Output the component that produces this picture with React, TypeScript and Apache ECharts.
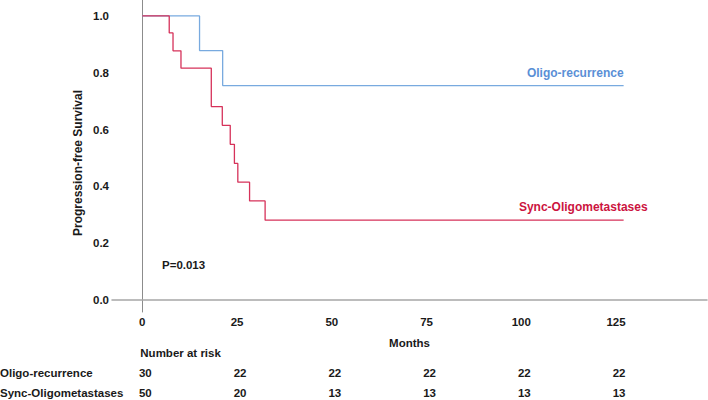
import React, { useEffect, useRef } from "react";
import * as echarts from "echarts";

const oligoTimes = [0, 15.1, 21.2, 127];
const oligoSurv = [1.0, 0.878, 0.755, 0.755];
const syncTimes = [0, 7.1, 8.1, 10.2, 18.2, 21.1, 23.2, 24.3, 25.2, 28.3, 32.4, 127];
const syncSurv = [1.0, 0.94, 0.877, 0.816, 0.681, 0.615, 0.548, 0.481, 0.415, 0.349, 0.281, 0.281];
const xTicks = [0, 25, 50, 75, 100, 125];
const yTicks = [0, 0.2, 0.4, 0.6, 0.8, 1.0];
const groups = ["Oligo-recurrence", "Sync-Oligometastases"];
const riskOligo = [30, 22, 22, 22, 22, 22];
const riskSync = [50, 20, 13, 13, 13, 13];
const pValue = "P=0.013";
const xMin = -8;
const xMax = 149;

const FONT = "'Liberation Sans', Arial, sans-serif";
const BLUE_LINE = "#78aadf";
const BLUE_TEXT = "#5a8fd6";
const RED_LINE = "#d6325a";
const RED_TEXT = "#cc1440";
const TXT = "#1a1a1a";

export default function App() {
  const ref = useRef<HTMLDivElement>(null);
  useEffect(() => {
    if (!ref.current) return;
    const chart = echarts.init(ref.current, undefined, { renderer: "svg" });
    const option: any = {
      animation: false,
      backgroundColor: "#ffffff",
      textStyle: { fontFamily: FONT },
      grid: { left: 112, right: 1, top: 0, bottom: 88, containLabel: false },
      xAxis: {
        type: "value",
        min: xMin,
        max: xMax,
        axisLine: { show: true, lineStyle: { color: "#a6a6a6", width: 1.5 } },
        axisTick: { show: false },
        splitLine: { show: false },
        axisLabel: {
          customValues: xTicks,
          margin: 4,
          fontFamily: FONT,
          fontSize: 11.5,
          fontWeight: "bold",
          color: TXT,
        },
      },
      yAxis: {
        type: "value",
        min: -0.042,
        max: 1.056,
        axisLine: { show: true, lineStyle: { color: "#8c8c8c", width: 1 } },
        axisTick: { show: false },
        splitLine: { show: false },
        axisLabel: {
          customValues: yTicks,
          formatter: (v: number) => v.toFixed(1),
          margin: 3,
          fontFamily: FONT,
          fontSize: 11.5,
          fontWeight: "bold",
          color: TXT,
        },
      },
      series: [
        {
          name: groups[0],
          type: "line",
          step: "end",
          showSymbol: false,
          symbol: "none",
          lineStyle: { color: BLUE_LINE, width: 1.3 },
          data: oligoTimes.map((t, i) => [t, oligoSurv[i]]),
        },
        {
          name: groups[1],
          type: "line",
          step: "end",
          showSymbol: false,
          symbol: "none",
          lineStyle: { color: RED_LINE, width: 1.3 },
          data: syncTimes.map((t, i) => [t, syncSurv[i]]),
        },
      ],
    };
    chart.setOption(option);

    const px = (t: number, v: number) => chart.convertToPixel({ gridIndex: 0 }, [t, v]) as number[];
    const bold = (text: string, x: number, y: number, align: string, color = TXT, size = 11.5) => ({
      type: "text",
      x,
      y,
      style: {
        text,
        fill: color,
        font: `bold ${size}px ${FONT}`,
        align,
        verticalAlign: "middle",
      },
    });
    const oEnd = px(oligoTimes[oligoTimes.length - 1], oligoSurv[oligoSurv.length - 1]);
    const sEnd = px(syncTimes[syncTimes.length - 1], syncSurv[syncSurv.length - 1]);
    const midX = (px(xMin, 0)[0] + px(xMax, 0)[0]) / 2;
    const yName: any = bold("Progression-free Survival", 78, 163, "center", TXT, 12);
    yName.rotation = Math.PI / 2;
    const graphics: any[] = [
      yName,
      bold(groups[0], oEnd[0], oEnd[1] - 13, "right", BLUE_TEXT, 12),
      bold(groups[1], sEnd[0] + 24, sEnd[1] - 13, "right", RED_TEXT, 12),
      bold(pValue, 162, 265, "left"),
      bold("Months", midX, 343, "center"),
      bold("Number at risk", px(0, 0)[0] - 2, 353, "left"),
      bold(groups[0], 0, 373, "left"),
      bold(groups[1], 0, 393, "left"),
    ];
    xTicks.forEach((t, i) => {
      const x = px(t, 0)[0] + 3;
      graphics.push(bold(String(riskOligo[i]), x, 373, "center"));
      graphics.push(bold(String(riskSync[i]), x, 393, "center"));
    });
    chart.setOption({ graphic: graphics });

    return () => chart.dispose();
  }, []);
  return (
    <div
      ref={ref}
      style={{ position: "fixed", left: 0, top: 0, width: 708, height: 400, background: "#fff" }}
    />
  );
}
